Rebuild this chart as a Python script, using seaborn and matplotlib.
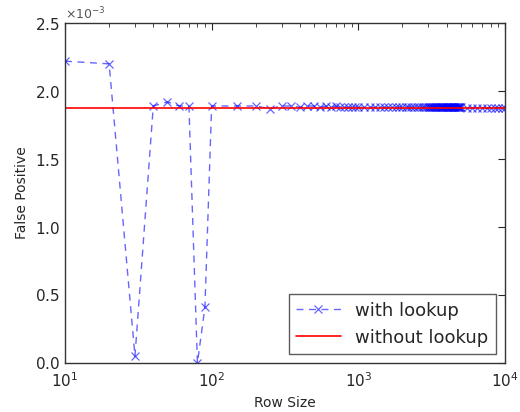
import matplotlib
matplotlib.use("Agg")
import matplotlib.pyplot as plt
import matplotlib.ticker as mticker
import seaborn as sns

# --- DATA ---
ROW_SIZE = [
    10, 20, 30, 40, 50, 60, 70, 80, 90, 100,
    150, 200, 250, 300, 350, 400, 450, 500, 550, 600, 650, 700, 750, 800, 850, 900, 950, 1000,
    1100, 1200, 1300, 1400, 1500, 1600, 1700, 1800, 1900, 2000,
    2100, 2200, 2300, 2400, 2500, 2600, 2700, 2800, 2900, 3000,
    3050, 3100, 3150, 3200, 3250, 3300, 3350, 3400, 3450, 3500,
    3550, 3600, 3650, 3700, 3750, 3800, 3850, 3900, 3950, 4000,
    4050, 4100, 4150, 4200, 4250, 4300, 4350, 4400, 4450, 4500,
    4550, 4600, 4650, 4700, 4750, 4800, 4850, 4900, 4950, 5000,
    5500, 6000, 6500, 7000, 7500, 8000, 8500, 9000, 9500, 10000,
]
FP_WITH_LOOKUP = [
    2.22, 2.20, 0.05, 1.89, 1.92, 1.89, 1.89, 0.00, 0.41, 1.89,
    1.89, 1.89, 1.87, 1.89, 1.89, 1.88, 1.89, 1.89, 1.88, 1.89, 1.88, 1.89, 1.88, 1.88, 1.88, 1.88, 1.88, 1.88,
    1.88, 1.88, 1.88, 1.88, 1.88, 1.88, 1.88, 1.88, 1.88, 1.88,
    1.88, 1.88, 1.88, 1.88, 1.88, 1.88, 1.88, 1.88, 1.88, 1.88,
    1.88, 1.88, 1.88, 1.88, 1.88, 1.88, 1.88, 1.88, 1.88, 1.88,
    1.88, 1.88, 1.88, 1.88, 1.88, 1.88, 1.88, 1.88, 1.88, 1.88,
    1.88, 1.88, 1.88, 1.88, 1.88, 1.88, 1.88, 1.88, 1.88, 1.88,
    1.88, 1.88, 1.88, 1.88, 1.88, 1.88, 1.88, 1.88, 1.88, 1.88,
    1.877, 1.877, 1.877, 1.877, 1.877, 1.877, 1.877, 1.877, 1.877, 1.877,
]
FP_WITHOUT_LOOKUP = 1.875  # x 1e-3

SCALE = 1e-3
Y_TICKS = [0.0, 0.5, 1.0, 1.5, 2.0, 2.5]

sns.set_style("white")
plt.rcParams['font.family'] = ['DejaVu Sans']

fig = plt.figure(figsize=(5.2, 4.12), dpi=100)
ax = fig.add_axes([0.125, 0.119, 0.846, 0.825])

sns.lineplot(x=ROW_SIZE, y=[v * SCALE for v in FP_WITH_LOOKUP], ax=ax,
             color='#0000ff', alpha=0.6, linewidth=1.0, dashes=False,
             marker='x', markersize=6, markeredgewidth=0.9, markeredgecolor='#0000ff',
             label='with lookup', estimator=None, sort=True)
ax.lines[-1].set_dashes((5, 4))
ax.axhline(FP_WITHOUT_LOOKUP * SCALE, color='red', linewidth=1.2, label='without lookup')

ax.set_xscale('log')
ax.set_xlim(10, 1e4)
ax.set_ylim(0, 2.5 * SCALE)
ax.set_yticks([t * SCALE for t in Y_TICKS])

fmt = mticker.ScalarFormatter(useMathText=True)
fmt.set_powerlimits((-2, 2))
ax.yaxis.set_major_formatter(fmt)
ax.yaxis.get_offset_text().set_fontsize(9)
ax.yaxis.get_offset_text().set_color('#555555')

ax.set_xlabel('Row Size', fontsize=10)
ax.set_ylabel('False Positive', fontsize=10)
ax.tick_params(axis='both', which='both', direction='in', top=True, right=True, labelsize=11)
ax.tick_params(axis='x', which='major', pad=6)
ax.tick_params(which='major', length=5)
ax.tick_params(which='minor', length=3)

for sp in ax.spines.values():
    sp.set_color('#333333')
    sp.set_linewidth(1.0)

leg = ax.legend(loc='lower right', fontsize=13, frameon=True, fancybox=False,
                borderaxespad=0.5, handlelength=2.5)
leg.get_frame().set_edgecolor('#333333')
leg.get_frame().set_linewidth(1.0)

fig.savefig('out.png', dpi=100)
